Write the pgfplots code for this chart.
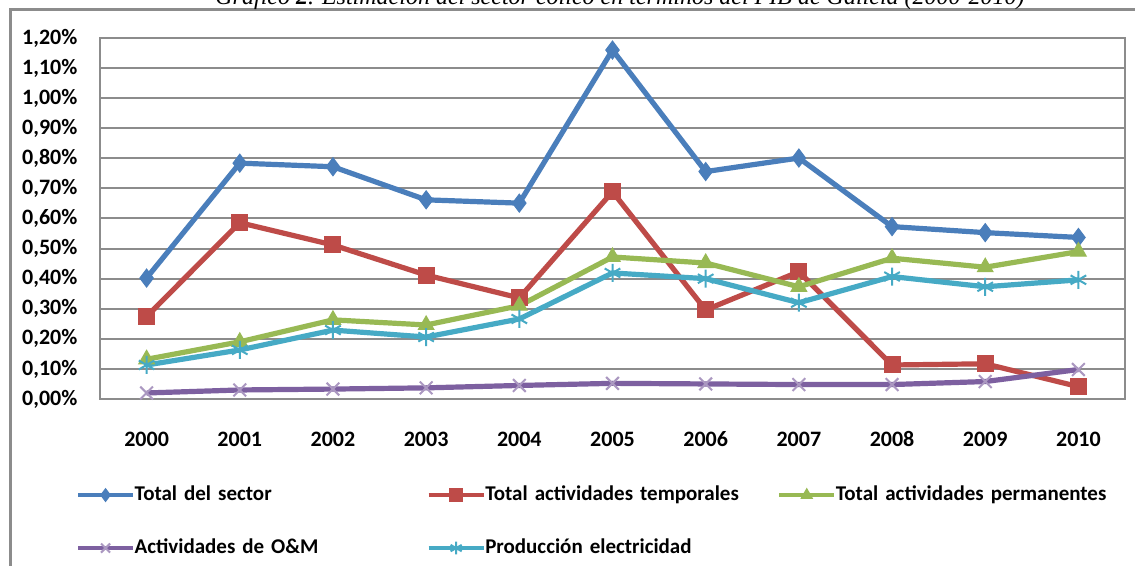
\documentclass[border=0pt]{standalone}
\usepackage{pgfplots}
\pgfplotsset{compat=1.18}
\usepackage{fontspec}
\setmainfont{Carlito}
\newfontfamily\titlefont{Liberation Serif}
\definecolor{cblue}{HTML}{4A7EBB}
\definecolor{cred}{HTML}{BE4B48}
\definecolor{cgreen}{HTML}{98B954}
\definecolor{cpurple}{HTML}{7D60A0}
\definecolor{ccyan}{HTML}{46AAC5}
\definecolor{gridgray}{HTML}{8C8C8C}
\begin{document}
\begin{tikzpicture}
\clip (0,0) rectangle (567.5pt,283pt);
\fill[white] (0,0) rectangle (567.5pt,283pt);
\draw[line width=1.5pt, gridgray] (5pt,-10pt) -- (5pt,278pt) -- (600pt,278pt);
\node[anchor=base, font=\titlefont\itshape\fontsize{12}{14}\selectfont] at (310pt,280.5pt) {Gráfico \textbf{2}. Estimación del sector eólico en términos del PIB de Galicia (2000-2010)};
\begin{axis}[
  at={(50pt,83.5pt)}, anchor=south west,
  scale only axis, width=512.5pt, height=180.5pt,
  xmin=-0.5, xmax=10.5, ymin=0, ymax=1.2,
  xtick={0,1,2,3,4,5,6,7,8,9,10},
  xticklabels={2000,2001,2002,2003,2004,2005,2006,2007,2008,2009,2010},
  ytick={0,0.1,0.2,0.3,0.4,0.5,0.6,0.7,0.8,0.9,1.0,1.1,1.2},
  yticklabels={0{,}00\%,0{,}10\%,0{,}20\%,0{,}30\%,0{,}40\%,0{,}50\%,0{,}60\%,0{,}70\%,0{,}80\%,0{,}90\%,1{,}00\%,1{,}10\%,1{,}20\%},
  ymajorgrids, grid style={line width=1pt, gridgray},
  axis line style={line width=1.25pt, gridgray},
  major tick length=0pt, tick style={draw=none},
  ticklabel style={font=\bfseries\fontsize{11}{13}\selectfont},
  xticklabel style={anchor=north, inner sep=0pt, yshift=-15pt},
  yticklabel style={anchor=east, inner sep=0pt, xshift=-10pt},
  axis background/.style={fill=white},
  line width=2.6pt,
  legend columns=3,
  legend style={at={(axis description cs:-0.0255,-0.2299)}, anchor=north west,
    draw=none, fill=none, inner sep=0pt, row sep=16pt, column sep=0pt,
    font=\bfseries\fontsize{10.5}{12}\selectfont,
    nodes={inner sep=0pt, text height=8pt, text depth=2.5pt},
    /tikz/every even column/.append style={text width=146.2pt, align=left}},
  legend image code/.code={\draw[mark repeat=2,mark phase=2,#1,line width=1.6pt,mark size=3.2pt] plot coordinates {(0pt,0pt) (13.75pt,0pt) (27.5pt,0pt)};},
]
\addplot[cblue, mark=diamond*, mark size=4.5pt, mark options={line width=0.5pt}] coordinates {
(0,0.402) (1,0.784) (2,0.772) (3,0.662) (4,0.651) (5,1.160) (6,0.756) (7,0.801) (8,0.573) (9,0.553) (10,0.537)};
\addlegendentry{Total del sector}
\addplot[cred, mark=square*, mark size=4pt, mark options={line width=0.5pt}] coordinates {
(0,0.274) (1,0.586) (2,0.512) (3,0.412) (4,0.336) (5,0.689) (6,0.296) (7,0.423) (8,0.113) (9,0.117) (10,0.041)};
\addlegendentry{Total actividades temporales}
\addplot[cgreen, mark=triangle*, mark size=4.5pt, mark options={line width=0.5pt}] coordinates {
(0,0.132) (1,0.190) (2,0.263) (3,0.246) (4,0.310) (5,0.472) (6,0.452) (7,0.373) (8,0.468) (9,0.438) (10,0.490)};
\addlegendentry{Total actividades permanentes}
\addplot[cpurple, mark=x, mark size=4.5pt, mark options={line width=1pt, cpurple!65!white}] coordinates {
(0,0.020) (1,0.030) (2,0.033) (3,0.037) (4,0.045) (5,0.052) (6,0.050) (7,0.048) (8,0.048) (9,0.058) (10,0.098)};
\addlegendentry{Actividades de O\&M}
\addplot[ccyan, mark=asterisk, mark size=4.5pt, mark options={line width=1pt}] coordinates {
(0,0.113) (1,0.163) (2,0.229) (3,0.206) (4,0.266) (5,0.419) (6,0.400) (7,0.320) (8,0.407) (9,0.373) (10,0.396)};
\addlegendentry{Producción electricidad}
\end{axis}
\end{tikzpicture}
\end{document}
